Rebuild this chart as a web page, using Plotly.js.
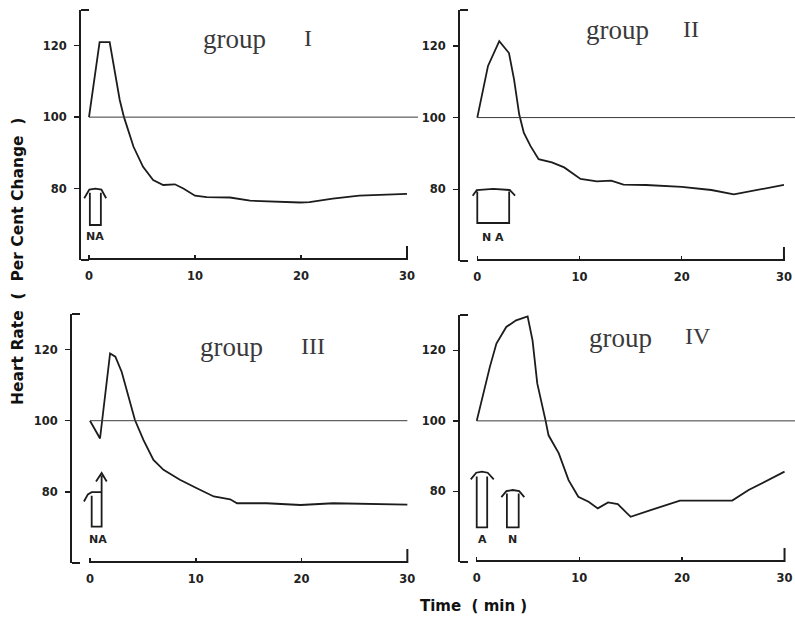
<!DOCTYPE html>
<html>
<head>
<meta charset="utf-8">
<script src="https://cdn.plot.ly/plotly-3.0.1.min.js"></script>
<style>
html,body{margin:0;padding:0;background:#fff;}
#chart{width:795px;height:617px;}
</style>
</head>
<body>
<div id="chart"></div>
<script>
// ---- data ----
const xTicks = [0, 10, 20, 30];
const yTicks = [80, 100, 120];
const panelNames = ["I", "II", "III", "IV"];
const baselineValue = 100;

const g1x = [0, 1.0, 1.95, 2.9, 3.3, 4.2, 5.1, 6.05, 7.0, 8.1, 8.9, 10.0, 11.1, 13.3, 15.2, 17.5, 19.9, 20.8, 23.0, 25.5, 28, 30];
const g1y = [100, 121, 121, 104.8, 100, 91.7, 86.1, 82.4, 81, 81.2, 80, 78, 77.6, 77.5, 76.6, 76.3, 76.1, 76.2, 77.2, 78, 78.3, 78.5];

const g2x = [0, 1.05, 2.15, 3.1, 3.6, 4.1, 4.55, 5.2, 6.0, 7.3, 8.5, 10.1, 11.7, 13.1, 14.3, 16.5, 20, 22.9, 25.1, 30];
const g2y = [100, 114.4, 121.3, 118, 110.6, 100.9, 95.8, 92.1, 88.4, 87.5, 86.1, 82.9, 82.2, 82.4, 81.3, 81.2, 80.7, 79.8, 78.6, 81.2];

const g3x = [0, 0.95, 1.9, 2.4, 3.0, 3.65, 4.25, 5.05, 6.0, 6.95, 8.5, 10.1, 11.7, 13.25, 13.9, 16.7, 19.9, 23, 30];
const g3y = [100, 95, 118.9, 118, 113.7, 106.7, 100.2, 94.6, 89, 86.2, 83.4, 81, 78.7, 77.9, 76.8, 76.8, 76.3, 76.8, 76.4];

const g4x = [0, 1.28, 1.92, 2.88, 3.84, 4.96, 5.44, 5.9, 6.7, 7.0, 8.0, 8.95, 9.9, 10.9, 11.8, 12.8, 13.75, 15.0, 16.95, 19.8, 24.9, 26.5, 30];
const g4y = [100, 115.3, 121.9, 126.6, 128.5, 129.6, 122.8, 110.6, 100.2, 95.9, 90.8, 83.2, 78.5, 77.1, 75.2, 76.9, 76.4, 72.8, 74.7, 77.4, 77.4, 80.4, 85.6];

// injection markers: [panel, label, label x]
const injLabels = [[1, "NA", 0.55], [2, "N A", 1.55], [3, "NA", 0.75], [4, "A", 0.55], [4, "N", 3.5]];

// ---- layout geometry (pixels) ----
const W = 795, H = 617;
const panels = [
  {xs: [81, 418], ys: [10, 260], xr: [-0.755, 31.04]},
  {xs: [460, 795], ys: [10, 261], xr: [-1.69, 31.08]},
  {xs: [72, 410], ys: [314, 563], xr: [-1.70, 30.25]},
  {xs: [460, 795], ys: [315, 562], xr: [-1.63, 31.02]}
];
const titlePos = [
  {g: [234, 39], n: [308, 38]},
  {g: [617, 30], n: [691, 29]},
  {g: [231, 347], n: [313, 346]},
  {g: [620, 338], n: [698, 336]}
];

const ink = "#1c1c1c";
const xs = [g1x, g2x, g3x, g4x];
const ys = [g1y, g2y, g3y, g4y];

const data = xs.map((x, i) => ({
  type: "scatter", mode: "lines", x: x, y: ys[i],
  xaxis: i === 0 ? "x" : "x" + (i + 1),
  yaxis: i === 0 ? "y" : "y" + (i + 1),
  line: {color: ink, width: 1.8},
  hoverinfo: "skip"
}));

const sans = "DejaVu Sans, Verdana, sans-serif";
const tickFont = {family: sans, size: 11.5, color: "#222", weight: "bold"};
const layout = {
  width: W, height: H,
  margin: {l: 0, r: 0, t: 0, b: 0},
  paper_bgcolor: "#fff", plot_bgcolor: "rgba(0,0,0,0)",
  showlegend: false,
  shapes: [], annotations: []
};

panels.forEach((p, i) => {
  const sfx = i === 0 ? "" : String(i + 1);
  const xa = "x" + sfx, ya = "y" + sfx;
  layout["xaxis" + sfx] = {
    domain: [p.xs[0] / W, p.xs[1] / W], range: p.xr, anchor: ya,
    showline: false, showgrid: false, zeroline: false,
    ticks: "inside", ticklen: 5, tickwidth: 1.5, tickcolor: ink,
    tickvals: xTicks, ticktext: xTicks.map(String),
    tickfont: tickFont, ticklabelstandoff: 7, ticklabeloverflow: "allow", fixedrange: true
  };
  layout["yaxis" + sfx] = {
    domain: [1 - p.ys[1] / H, 1 - p.ys[0] / H], range: [60, 130], anchor: xa,
    showline: true, linewidth: 2, linecolor: ink, showgrid: false, zeroline: false,
    ticks: "outside", ticklen: 5, tickwidth: 1.5, tickcolor: ink,
    tickvals: yTicks, ticktext: yTicks.map(String),
    tickfont: tickFont, ticklabelstandoff: 5, ticklabeloverflow: "allow", fixedrange: true
  };
  const wpx = p.xs[1] - p.xs[0], hpx = p.ys[1] - p.ys[0];
  layout.shapes.push({type: "line", xref: xa, yref: ya + " domain", x0: 0, x1: 30, y0: 0.004, y1: 0.004, line: {color: ink, width: 2}});
  layout.shapes.push({type: "line", xref: xa, yref: ya + " domain", x0: 30, x1: 30, y0: 0, y1: 14 / hpx, line: {color: ink, width: 2}});
  layout.shapes.push({type: "line", xref: xa + " domain", yref: ya + " domain", x0: 0, x1: 8 / wpx, y0: 1, y1: 1, line: {color: ink, width: 2}});
  layout.shapes.push({type: "line", xref: xa + " domain", yref: ya + " domain", x0: 0, x1: 8 / wpx, y0: 0, y1: 0, line: {color: ink, width: 2}});
  const bx1 = (i === 2) ? 30 : p.xr[1];
  layout.shapes.push({type: "line", xref: xa, yref: ya, x0: 0, x1: bx1, y0: baselineValue, y1: baselineValue, line: {color: "#3a3a3a", width: 1}});
  const t = titlePos[i];
  layout.annotations.push({xref: "paper", yref: "paper", x: t.g[0] / W, y: 1 - t.g[1] / H, xanchor: "center", yanchor: "middle",
    text: "group", showarrow: false, font: {family: "Liberation Serif, Times New Roman, serif", size: 27, color: "#3a3a3a"}});
  layout.annotations.push({xref: "paper", yref: "paper", x: t.n[0] / W, y: 1 - t.n[1] / H, xanchor: "center", yanchor: "middle",
    text: panelNames[i], showarrow: false, font: {family: "Liberation Serif, Times New Roman, serif", size: 24, color: "#3a3a3a"}});
});

function arrowPath(xl, xr, bottom, top, hookL, hookR, hookY, apexY) {
  return "M " + xl + "," + (top - 0.4) + " L " + xl + "," + bottom + " L " + xr + "," + bottom + " L " + xr + "," + (top - 0.4) +
         " M " + hookL + "," + hookY + " L " + (xl - 0.05) + "," + (apexY - 0.3) + " L " + ((xl + xr) / 2) + "," + apexY +
         " L " + (xr + 0.05) + "," + (apexY - 0.3) + " L " + hookR + "," + hookY;
}
const arrowSpecs = [
  {p: 0, d: arrowPath(0.08, 1.12, 69.8, 79.2, -0.45, 1.62, 77.3, 80.0)},
  {p: 1, d: arrowPath(0, 3.12, 70.6, 79.8, -0.45, 3.7, 78.2, 80.1)},
  {p: 2, d: "M 0.16,78.9 L 0.16,70.2 L 1.1,70.2 L 1.1,84.6 M -0.57,77.3 L -0.2,79.3 L 0.16,79.9 L 1.1,79.9 M 0.57,82.9 L 1.1,85.3 L 1.58,82.9"},
  {p: 3, d: arrowPath(0, 1.02, 69.8, 84.6, -0.58, 1.66, 83.4, 85.6)},
  {p: 3, d: arrowPath(2.94, 4.09, 69.8, 79.8, 2.4, 4.64, 78.4, 80.4)}
];
arrowSpecs.forEach(a => {
  const sfx = a.p === 0 ? "" : String(a.p + 1);
  layout.shapes.push({type: "path", xref: "x" + sfx, yref: "y" + sfx, path: a.d, line: {color: ink, width: 1.8}});
});
injLabels.forEach(l => {
  const sfx = l[0] === 1 ? "" : String(l[0]);
  layout.annotations.push({xref: "x" + sfx, yref: "y" + sfx, x: l[2], y: 66.5, text: l[1], showarrow: false,
    xanchor: "center", yanchor: "middle", font: {family: sans, size: 11, color: "#222", weight: "bold"}});
});

layout.annotations.push({xref: "paper", yref: "paper", x: 18 / W, y: 1 - 262 / H, textangle: -90, xanchor: "center", yanchor: "middle",
  text: "Heart Rate  (  Per Cent Change  )", showarrow: false,
  font: {family: sans, size: 15.5, color: "#111", weight: "bold"}});
layout.annotations.push({xref: "paper", yref: "paper", x: 473 / W, y: 1 - 606 / H, xanchor: "center", yanchor: "middle",
  text: "Time  ( min )", showarrow: false,
  font: {family: sans, size: 15, color: "#111", weight: "bold"}});

Plotly.newPlot("chart", data, layout, {displayModeBar: false, staticPlot: true});
</script>
</body>
</html>
